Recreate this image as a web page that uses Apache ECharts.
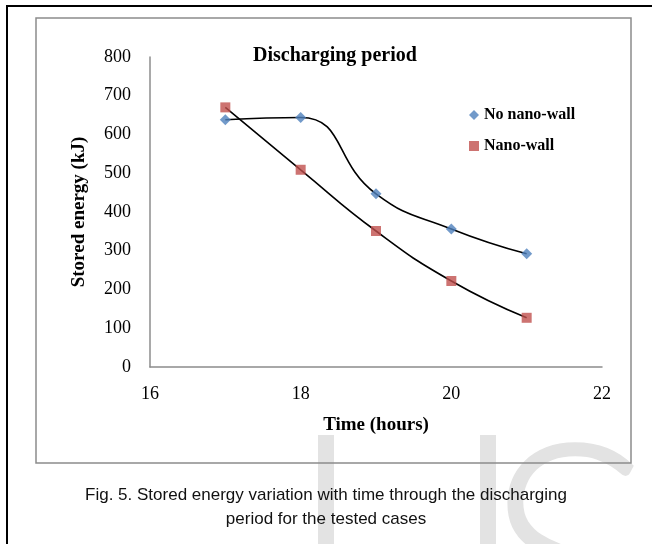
<!DOCTYPE html>
<html>
<head>
<meta charset="utf-8">
<script src="https://cdn.jsdelivr.net/npm/echarts@6/dist/echarts.min.js"></script>
<style>
  html, body { margin: 0; padding: 0; background: #fff; }
  #discharge { width: 652px; height: 544px; }
</style>
</head>
<body>
<div id="discharge"></div>
<script>
// data
var hours = [17, 18, 19, 20, 21];
var noNanoWall = [638, 644, 447, 356, 292];
var nanoWall = [670, 509, 351, 222, 127];
var xTicks = [16, 18, 20, 22];
var yTicks = [0, 100, 200, 300, 400, 500, 600, 700, 800];

function pairs(vals) {
  return hours.map(function (h, i) { return [h, vals[i]]; });
}

var serif = "'Liberation Serif', 'Times New Roman', serif";
var markGrey = '#e3e3e3'; // watermark colour

var option = {
  animation: false,
  backgroundColor: '#fff',
  title: {
    text: 'Discharging period',
    left: 248,
    top: 41,
    textStyle: { fontFamily: serif, fontSize: 20, fontWeight: 'bold', color: '#000' }
  },
  legend: {
    orient: 'vertical',
    left: 464,
    top: 102,
    itemWidth: 10,
    itemHeight: 10,
    itemGap: 15,
    data: [
      { name: 'No nano-wall', icon: 'diamond' },
      { name: 'Nano-wall', icon: 'rect' }
    ],
    textStyle: { fontFamily: serif, fontSize: 16, fontWeight: 'bold', color: '#000' }
  },
  grid: {
    left: 150,
    right: 50,
    top: 57,
    bottom: 177
  },
  xAxis: {
    type: 'value',
    min: xTicks[0],
    max: xTicks[xTicks.length - 1],
    interval: 2,
    name: 'Time (hours)',
    nameLocation: 'middle',
    nameGap: 49,
    nameTextStyle: { fontFamily: serif, fontSize: 19, fontWeight: 'bold', color: '#000' },
    axisLine: { lineStyle: { color: '#8c8c8c', width: 1.5 } },
    axisTick: { show: false },
    splitLine: { show: false },
    axisLabel: { margin: 18, fontFamily: serif, fontSize: 18, color: '#000' }
  },
  yAxis: {
    type: 'value',
    min: yTicks[0],
    max: yTicks[yTicks.length - 1],
    interval: 100,
    name: 'Stored energy (kJ)',
    nameLocation: 'middle',
    nameGap: 61,
    nameTextStyle: { fontFamily: serif, fontSize: 19, fontWeight: 'bold', color: '#000' },
    axisLine: { show: true, lineStyle: { color: '#8c8c8c', width: 1.5 } },
    axisTick: { show: false },
    splitLine: { show: false },
    axisLabel: { margin: 19, fontFamily: serif, fontSize: 18, color: '#000' }
  },
  graphic: [
    // watermark letters behind the figure (only the upper part shows)
    { type: 'rect', z: -10, shape: { x: 318, y: 435, width: 16, height: 120 }, style: { fill: markGrey } },
    { type: 'rect', z: -10, shape: { x: 480, y: 435, width: 16, height: 120 }, style: { fill: markGrey } },
    { type: 'text', z: -10, left: 482, top: 407, style: { text: 'S', font: '300 330px Lato', fill: markGrey } },
    // outer black frame and inner grey chart area frame
    { type: 'rect', shape: { x: 7, y: 6, width: 700, height: 600 }, style: { fill: 'none', stroke: '#000', lineWidth: 2 } },
    { type: 'rect', shape: { x: 36, y: 18, width: 595, height: 445 }, style: { fill: 'none', stroke: '#8c8c8c', lineWidth: 1.5 } },
    {
      type: 'text',
      left: 'center',
      top: 483,
      style: {
        text: 'Fig. 5. Stored energy variation with time through the discharging\nperiod for the tested cases',
        font: '17px "Liberation Sans"',
        fill: '#111',
        textAlign: 'center',
        lineHeight: 24
      }
    }
  ],
  series: [
    {
      // trend curve, no nano-wall
      type: 'line',
      data: pairs(noNanoWall),
      smooth: 0.5,
      symbol: 'none',
      silent: true,
      lineStyle: { color: '#000', width: 1.6 },
      z: 1
    },
    {
      // trend curve, nano-wall
      type: 'line',
      data: pairs(nanoWall),
      smooth: 0.5,
      symbol: 'none',
      silent: true,
      lineStyle: { color: '#000', width: 1.6 },
      z: 1
    },
    {
      name: 'No nano-wall',
      type: 'scatter',
      data: pairs(noNanoWall),
      symbol: 'diamond',
      symbolSize: 11,
      itemStyle: { color: '#4f81bd' },
      z: 2
    },
    {
      name: 'Nano-wall',
      type: 'scatter',
      data: pairs(nanoWall),
      symbol: 'rect',
      symbolSize: 10,
      itemStyle: { color: '#c0504d' },
      z: 2
    }
  ]
};

var chart = echarts.init(document.getElementById('discharge'));
chart.setOption(option);
</script>
</body>
</html>
